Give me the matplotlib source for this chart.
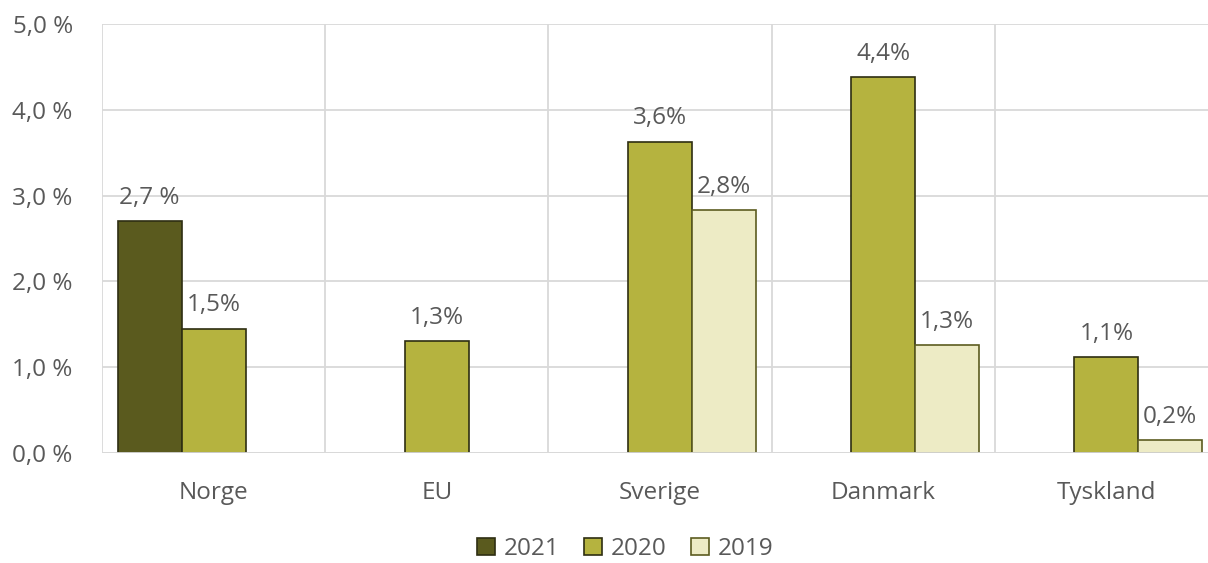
import matplotlib
matplotlib.use("Agg")
import matplotlib.pyplot as plt
import numpy as np

categories = ["Norge", "EU", "Sverige", "Danmark", "Tyskland"]
series_names = ["2021", "2020", "2019"]
v2021 = [2.70, np.nan, np.nan, np.nan, np.nan]
v2020 = [1.45, 1.30, 3.63, 4.38, 1.12]
v2019 = [np.nan, np.nan, 2.83, 1.26, 0.15]
lab2021 = ["2,7 %", "", "", "", ""]
lab2020 = ["1,5%", "1,3%", "3,6%", "4,4%", "1,1%"]
lab2019 = ["", "", "2,8%", "1,3%", "0,2%"]
yticks = [0, 1, 2, 3, 4, 5]
ytick_labels = ["0,0 %", "1,0 %", "2,0 %", "3,0 %", "4,0 %", "5,0 %"]

colors = ["#5A5A1E", "#B5B33F", "#EDEBC5"]
edges = ["#2E2E12", "#2E2E12", "#5C5C20"]
txt = "#595959"
grid = "#D9D9D9"
fs = 17.5

plt.rcParams['font.family'] = ['Open Sans', 'DejaVu Sans']

fig = plt.figure(figsize=(12.08, 5.63), dpi=100)
ax = fig.add_axes([102/1208, 110/563, (1218-102)/1208, (453-24)/563])

x = np.arange(len(categories))
w = 0.2865
for i, (vals, labs) in enumerate(zip([v2021, v2020, v2019], [lab2021, lab2020, lab2019])):
    pos = x + (i - 1) * w
    ax.bar(pos, vals, width=w, color=colors[i], edgecolor=edges[i],
           linewidth=1.2, label=series_names[i], zorder=3)
    for p, v, l in zip(pos, vals, labs):
        if l and not np.isnan(v):
            ax.annotate(l, (p, v), xytext=(0, 8), textcoords="offset points",
                        ha="center", va="bottom", fontsize=fs, color=txt)

ax.set_xlim(-0.5, len(categories) - 0.5)
ax.set_ylim(0, 5)
ax.set_yticks(yticks)
ax.set_yticklabels(ytick_labels)
ax.set_xticks(x)
ax.set_xticklabels(categories)
ax.tick_params(axis='both', length=0, labelsize=fs, labelcolor=txt)
ax.tick_params(axis='x', pad=20)
ax.tick_params(axis='y', pad=21)

ax.yaxis.grid(True, color=grid, linewidth=1.3, zorder=0)
for b in np.arange(-0.5, len(categories) + 0.5, 1):
    ax.axvline(b, color=grid, linewidth=1.3, zorder=0)
for s in ax.spines.values():
    s.set_visible(False)
ax.axhline(0, color=grid, linewidth=1.3, zorder=4)

handles, labels = ax.get_legend_handles_labels()
fig.legend(handles, labels, loc='center', bbox_to_anchor=(625/1208, 1 - 549/563),
           ncol=3, frameon=False, fontsize=fs, handlelength=0.75, handleheight=0.75,
           handletextpad=0.35, columnspacing=1.0, labelcolor=txt)

fig.savefig("out.png", dpi=100)
